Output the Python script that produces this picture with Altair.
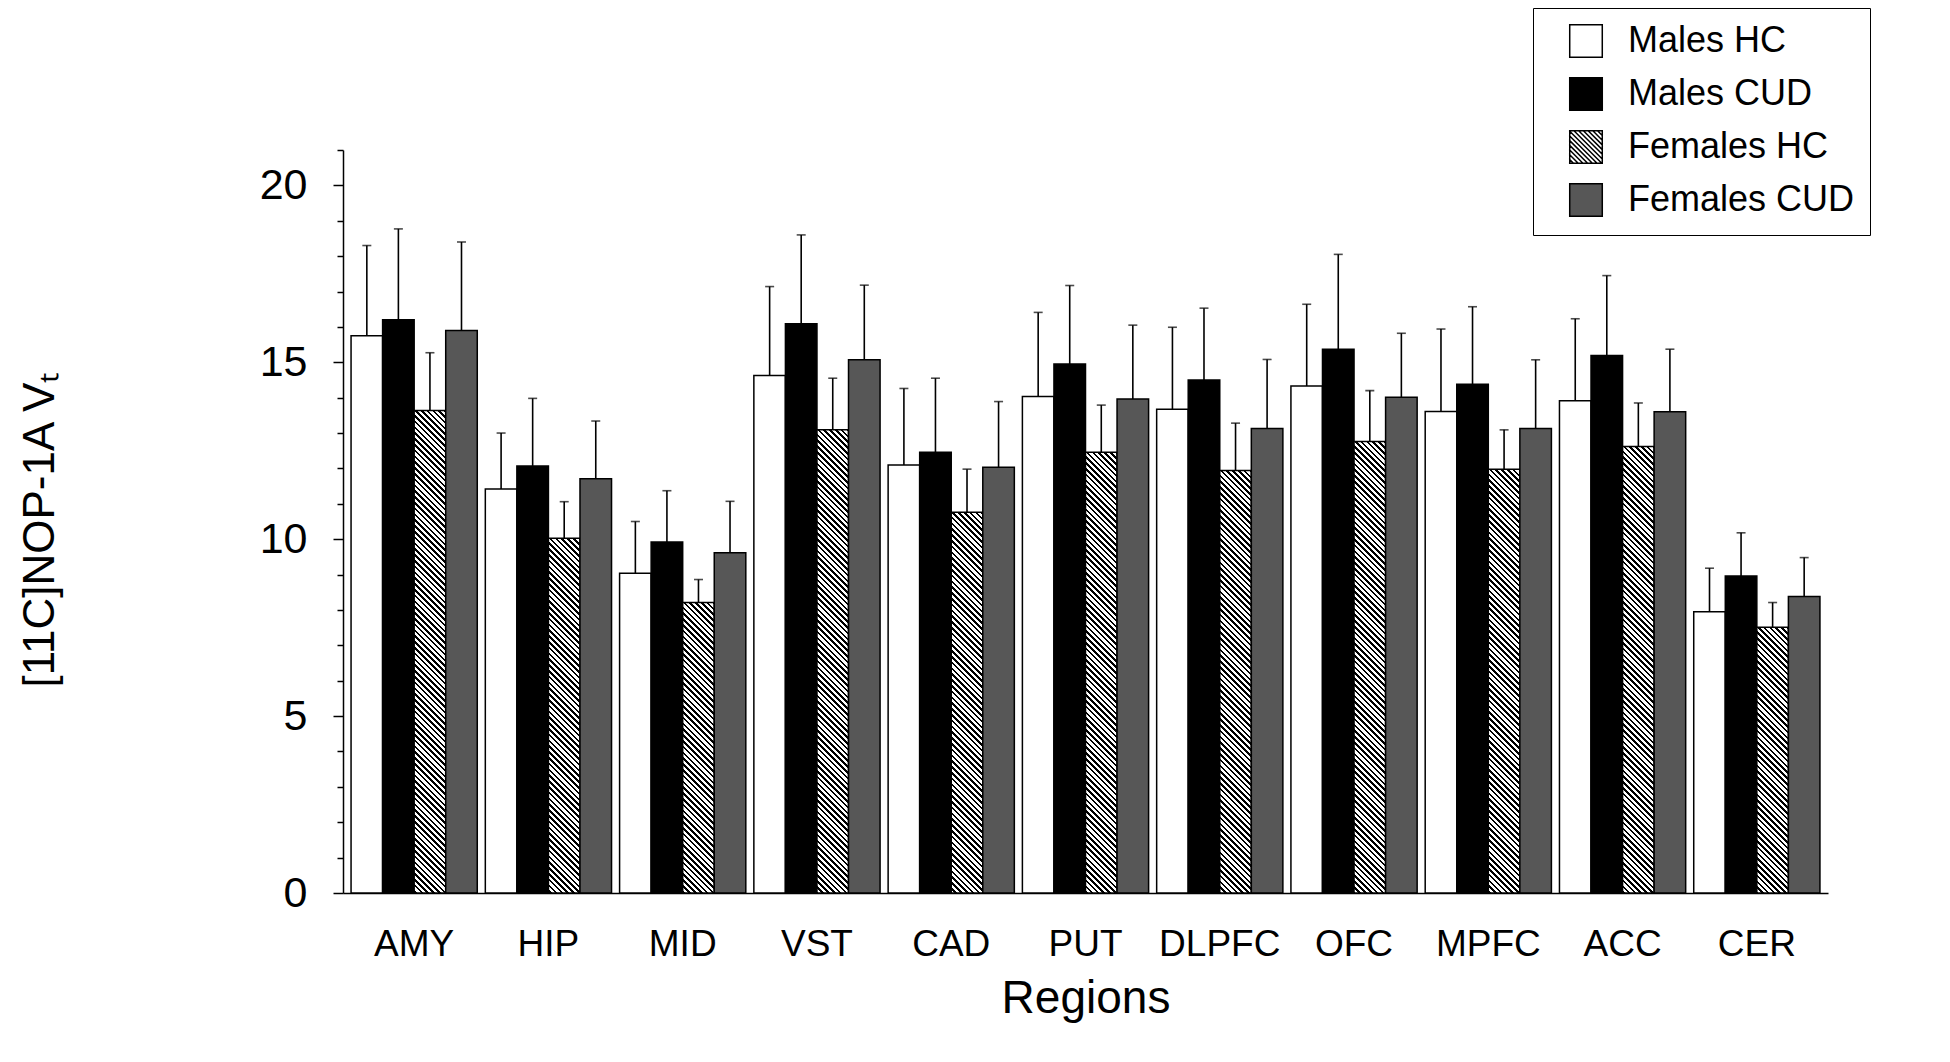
import altair as alt

# ---------------- data ----------------
regions = ["AMY", "HIP", "MID", "VST", "CAD", "PUT", "DLPFC", "OFC", "MPFC", "ACC", "CER"]
groups = ["Males HC", "Males CUD", "Females HC", "Females CUD"]

males_hc = [15.75, 11.42, 9.04, 14.63, 12.10, 14.03, 13.67, 14.33, 13.61, 13.91, 7.95]
males_hc_err = [2.55, 1.58, 1.46, 2.51, 2.16, 2.38, 2.32, 2.31, 2.33, 2.32, 1.23]
males_cud = [16.20, 12.07, 9.92, 16.09, 12.46, 14.95, 14.50, 15.37, 14.38, 15.19, 8.96]
males_cud_err = [2.57, 1.91, 1.45, 2.51, 2.09, 2.22, 2.03, 2.68, 2.19, 2.26, 1.22]
females_hc = [13.64, 10.03, 8.21, 13.09, 10.76, 12.46, 11.94, 12.76, 11.98, 12.62, 7.51]
females_hc_err = [1.63, 1.03, 0.65, 1.46, 1.22, 1.33, 1.34, 1.44, 1.11, 1.23, 0.70]
females_cud = [15.90, 11.71, 9.62, 15.07, 12.03, 13.96, 13.13, 14.01, 13.13, 13.60, 8.38]
females_cud_err = [2.50, 1.63, 1.45, 2.11, 1.86, 2.09, 1.95, 1.81, 1.94, 1.77, 1.10]

# ---------------- layout / style ----------------
W, H = 1485, 743
Y_MAX = 21
PAD_IN, PAD_OUT = 0.06, 0.06
FONT = "Liberation Sans"
FCUD_GREY = "#575757"

# bar width in px (same arithmetic as the band scale) -> used for hatch texture
step = W / (len(regions) - PAD_IN + 2 * PAD_OUT)
bar_w = step * (1 - PAD_IN) / len(groups)


def hatch(value, period=5.8, frac=0.45):
    """Diagonal '\\' hatch as a hard-stop linear gradient sized to one bar."""
    h = max(value * H / Y_MAX, 1.0)
    w = bar_w
    r = w / h
    s = (1 + r) / (1 + r * r)
    D = h + w
    stops = []
    pos = 0.0
    while pos < D:
        a = round(pos / D, 5)
        b = round(min((pos + frac * period) / D, 1.0), 5)
        c = round(min((pos + period) / D, 1.0), 5)
        stops += [
            {"offset": a, "color": "black"},
            {"offset": b, "color": "black"},
            {"offset": b, "color": "white"},
            {"offset": c, "color": "white"},
        ]
        pos += period
    return {"gradient": "linear", "x1": 1, "y1": 0, "x2": 1 - r * s, "y2": s, "stops": stops}


series = [
    ("Males HC", males_hc, males_hc_err),
    ("Males CUD", males_cud, males_cud_err),
    ("Females HC", females_hc, females_hc_err),
    ("Females CUD", females_cud, females_cud_err),
]
solid = {"Males HC": "white", "Males CUD": "black", "Females CUD": FCUD_GREY}

records = []
for g, means, errs in series:
    for reg, m, e in zip(regions, means, errs):
        records.append({
            "region": reg,
            "group": g,
            "mean": m,
            "err": e,
            "paint": hatch(m) if g == "Females HC" else solid[g],
        })

data = alt.Data(values=records)

# legend symbol shapes
square = "M-1,-1H1V1H-1Z"
segs = []
k = 1
while True:
    c = -2 + k * 0.29
    if c >= 2:
        break
    if c >= 0:
        segs.append(f"M-1,{-1 + c:.3f}L{1 - c:.3f},1")
    else:
        segs.append(f"M{-1 - c:.3f},-1L1,{1 + c:.3f}")
    k += 1
hatched_square = square + "".join(segs)

x_axis = alt.Axis(
    title="Regions",
    labelAngle=0,
    labelFont=FONT,
    labelFontSize=37,
    labelColor="black",
    labelBaseline="alphabetic",
    labelPadding=62,
    ticks=False,
    domainColor="black",
    domainWidth=1.5,
    titleFont=FONT,
    titleFontSize=46,
    titleFontWeight="normal",
    titleColor="black",
    titleBaseline="alphabetic",
    titleY=119,
)
y_axis = alt.Axis(
    title="[11C]NOP-1A Vₜ",
    values=list(range(0, Y_MAX + 1)),
    labelExpr="datum.value % 5 === 0 ? datum.label : ''",
    tickSize={"condition": {"test": "datum.value % 5 === 0", "value": 10}, "value": 6},
    tickColor="black",
    tickWidth=1.5,
    labelFont=FONT,
    labelFontSize=43,
    labelColor="black",
    labelPadding=26,
    grid=False,
    domainColor="black",
    domainWidth=1.5,
    titleFont=FONT,
    titleFontSize=44,
    titleFontWeight="normal",
    titleColor="black",
    titleAngle=270,
    titleAlign="center",
    titleBaseline="alphabetic",
    titleX=-290,
    titleY=H / 2 + 8,
)
y_scale = alt.Scale(domain=[0, Y_MAX], nice=False, zero=True)

x_enc = alt.X("region:N", sort=regions,
              scale=alt.Scale(domain=regions, paddingInner=PAD_IN, paddingOuter=PAD_OUT),
              axis=x_axis)
xo_enc = alt.XOffset("group:N", sort=groups,
                     scale=alt.Scale(domain=groups, paddingInner=0, paddingOuter=0))
y_mean = alt.Y("mean:Q", scale=y_scale, axis=y_axis)
y_upper = alt.Y("upper:Q", scale=y_scale, axis=y_axis)

bars = alt.Chart(data).mark_bar(stroke="black", strokeWidth=1.5, aria=False).encode(
    x=x_enc,
    xOffset=xo_enc,
    y=y_mean,
    color=alt.Color("paint:N", scale=None),
)

err_rules = alt.Chart(data).transform_calculate(
    upper="datum.mean + datum.err"
).mark_rule(color="black", strokeWidth=1.6).encode(
    x=x_enc,
    xOffset=xo_enc,
    y=y_mean,
    y2="upper:Q",
)

err_caps = alt.Chart(data).transform_calculate(
    upper="datum.mean + datum.err"
).mark_tick(color="black", thickness=1.6, size=9, orient="horizontal").encode(
    x=x_enc,
    xOffset=xo_enc,
    y=y_upper,
)

leg = alt.Legend(
    title=None,
    orient="none",
    legendX=1190,
    legendY=-142,
    padding=15,
    strokeColor="black",
    fillColor="white",
    symbolSize=1060,
    symbolStrokeWidth=1.5,
    symbolStrokeColor="black",
    symbolOffset=20,
    symbolOpacity=1,
    labelOffset=24,
    labelFont=FONT,
    labelFontSize=36,
    labelColor="black",
    labelLimit=500,
    rowPadding=13,
)

legend_layer = alt.Chart(data).mark_point(filled=True, opacity=0).encode(
    x=x_enc,
    xOffset=xo_enc,
    y=y_mean,
    fill=alt.Fill("group:N", sort=groups,
                  scale=alt.Scale(domain=groups, range=["white", "black", "white", FCUD_GREY]),
                  legend=leg),
    shape=alt.Shape("group:N", sort=groups,
                    scale=alt.Scale(domain=groups, range=[square, square, hatched_square, square]),
                    legend=leg),
    stroke=alt.Stroke("group:N", sort=groups,
                      scale=alt.Scale(domain=groups, range=["black"] * 4),
                      legend=leg),
)

chart = alt.layer(bars, err_rules, err_caps, legend_layer).properties(
    width=W,
    height=H,
    autosize=alt.AutoSizeParams(type="none"),
    padding={"left": 335, "top": 142, "right": 100, "bottom": 160},
    background="white",
).configure_view(stroke=None)

chart.save("out.html", embed_options={"renderer": "svg", "actions": False})
